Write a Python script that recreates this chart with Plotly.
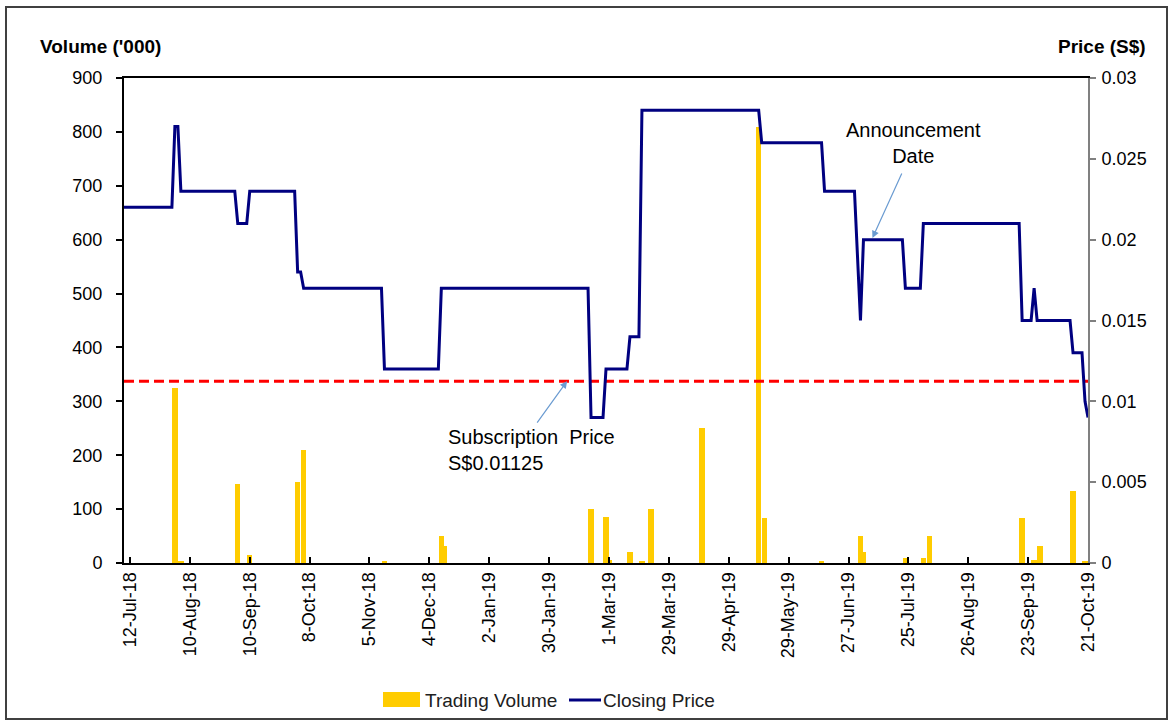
import plotly.graph_objects as go

# ---- data ----
# x positions are trading-day indexes; a tick label every 20 trading days
tick_labels = ["12-Jul-18", "10-Aug-18", "10-Sep-18", "8-Oct-18", "5-Nov-18", "4-Dec-18",
               "2-Jan-19", "30-Jan-19", "1-Mar-19", "29-Mar-19", "29-Apr-19", "29-May-19",
               "27-Jun-19", "25-Jul-19", "26-Aug-19", "23-Sep-19", "21-Oct-19"]
label_step = 20
first_day = -2
last_day = 320

# closing price: turning points of the price path (trading-day index, S$)
price_day = [-2, 14, 15, 16, 17, 35, 36, 39, 40, 55, 56, 57, 58, 84, 85, 103, 104,
             153, 154, 158, 159, 166, 167, 170, 171, 210, 211, 231, 232, 242, 244, 245,
             258, 259, 264, 265, 297, 298, 301, 302, 303, 314, 315, 318, 319, 320]
price_value = [0.022, 0.022, 0.027, 0.027, 0.023, 0.023, 0.021, 0.021, 0.023, 0.023, 0.018, 0.018, 0.017,
               0.017, 0.012, 0.012, 0.017, 0.017, 0.009, 0.009, 0.012, 0.012, 0.014, 0.014, 0.028,
               0.028, 0.026, 0.026, 0.023, 0.023, 0.015, 0.020, 0.020, 0.017, 0.017, 0.021,
               0.021, 0.015, 0.015, 0.017, 0.015, 0.015, 0.013, 0.013, 0.010, 0.009]

# trading volume ('000) on days with trades
vol_day = [15, 17, 36, 40, 56, 58, 85, 104, 105, 154, 159, 160, 167, 171, 174, 191, 210, 212,
           231, 244, 245, 259, 265, 267, 298, 302, 304, 315, 319]
vol_value = [325, 3, 147, 14, 150, 210, 4, 50, 32, 100, 86, 5, 21, 3, 100, 250, 810, 83,
             3, 50, 21, 10, 10, 50, 83, 5, 32, 133, 3]

subscription_price = 0.01125

vol_ticks = list(range(0, 901, 100))
price_ticks = [0, 0.005, 0.01, 0.015, 0.02, 0.025, 0.03]
price_tick_text = ["0", "0.005", "0.01", "0.015", "0.02", "0.025", "0.03"]

FONT = "Liberation Sans, Arial, sans-serif"
BAR_COLOR = "#FFCC00"
LINE_COLOR = "#000080"

fig = go.Figure()
fig.add_trace(go.Bar(x=vol_day, y=vol_value, name="Trading Volume", width=1.8,
                     showlegend=False,
                     marker=dict(color=BAR_COLOR, line=dict(width=0))))
fig.add_trace(go.Scatter(x=[first_day, last_day], y=[subscription_price, subscription_price],
                         mode="lines", yaxis="y2", showlegend=False, hoverinfo="skip",
                         line=dict(color="#FF0000", width=3, dash="10px,5px")))
fig.add_trace(go.Scatter(x=price_day, y=price_value, mode="lines", yaxis="y2",
                         name="Closing Price", showlegend=False,
                         line=dict(color=LINE_COLOR, width=3)))

tickvals = [i * label_step for i in range(len(tick_labels))]

L, R, T, B = 124, 83, 78, 159
W, H = 1171, 722
pw, ph = W - L - R, H - T - B

def px(xp):
    return (xp - L) / pw

def py(yp):
    return (H - B - yp) / ph

fig.update_layout(
    width=W, height=H,
    margin=dict(l=L, r=R, t=T, b=B, pad=0, autoexpand=False),
    paper_bgcolor="white", plot_bgcolor="white",
    font=dict(family=FONT, size=18, color="black"),
    bargap=0,
    showlegend=False,
    xaxis=dict(range=[first_day, last_day], tickvals=tickvals, ticktext=tick_labels,
               tickangle=-90, ticks="inside", ticklen=6, tickwidth=1.5, tickcolor="black",
               showline=True, linecolor="black", linewidth=2, mirror=True,
               showgrid=False, zeroline=False, automargin=False, tickfont=dict(size=18)),
    yaxis=dict(range=[0, 900], tickvals=vol_ticks, ticks="outside", ticklen=6, tickwidth=1.5,
               tickcolor="black", showline=True, linecolor="black", linewidth=2,
               showgrid=False, zeroline=False, automargin=False, ticklabelstandoff=10,
               tickfont=dict(size=18)),
    yaxis2=dict(range=[0, 0.03], overlaying="y", side="right", tickvals=price_ticks,
                ticktext=price_tick_text, ticks="outside", ticklen=6, tickwidth=1.5,
                tickcolor="#808080", showline=True, linecolor="#808080", linewidth=2,
                showgrid=False, zeroline=False, automargin=False, ticklabelstandoff=2,
                tickfont=dict(size=18)),
)

fig.add_annotation(x=px(38), y=py(46), xref="paper", yref="paper", xanchor="left",
                   yanchor="middle", text="<b>Volume ('000)</b>", showarrow=False,
                   font=dict(size=19))
fig.add_annotation(x=px(1148), y=py(46), xref="paper", yref="paper", xanchor="right",
                   yanchor="middle", text="<b>Price (S$)</b>", showarrow=False,
                   font=dict(size=19))

# Subscription price note
fig.add_annotation(x=px(446), y=py(424), xref="paper", yref="paper", xanchor="left",
                   yanchor="top", align="left", text="Subscription  Price<br>S$0.01125",
                   showarrow=False, font=dict(size=20))
fig.add_annotation(x=146, y=subscription_price, xref="x", yref="y2", text="",
                   showarrow=True, ax=-31, ay=43, arrowhead=2, arrowsize=1.2,
                   arrowwidth=1.2, arrowcolor="#6A9BD1")

# Announcement note
fig.add_annotation(x=px(913), y=py(117), xref="paper", yref="paper", xanchor="center",
                   yanchor="top", align="center", text="Announcement<br>Date",
                   showarrow=False, font=dict(size=20))
fig.add_annotation(x=248, y=0.0201, xref="x", yref="y2", text="",
                   showarrow=True, ax=30, ay=-66, arrowhead=2, arrowsize=1.2,
                   arrowwidth=1.2, arrowcolor="#6A9BD1")

# legend drawn as swatches + text (wide bar swatch like the reference)
fig.add_shape(type="rect", xref="paper", yref="paper", x0=px(383), x1=px(420),
              y0=py(707), y1=py(692), fillcolor=BAR_COLOR, line=dict(width=0))
fig.add_annotation(x=px(423), y=py(700), xref="paper", yref="paper", xanchor="left",
                   yanchor="middle", text="Trading Volume", showarrow=False,
                   font=dict(size=19, color="#202020"))
fig.add_shape(type="line", xref="paper", yref="paper", x0=px(569), x1=px(601),
              y0=py(700), y1=py(700), line=dict(color=LINE_COLOR, width=3))
fig.add_annotation(x=px(601), y=py(700), xref="paper", yref="paper", xanchor="left",
                   yanchor="middle", text="Closing Price", showarrow=False,
                   font=dict(size=19, color="#202020"))

# outer chart border
fig.add_shape(type="rect", xref="paper", yref="paper", x0=px(6), x1=px(1167),
              y0=py(719), y1=py(7), line=dict(color="#404040", width=2),
              fillcolor="rgba(0,0,0,0)", layer="below")

fig.write_html("out.html")
